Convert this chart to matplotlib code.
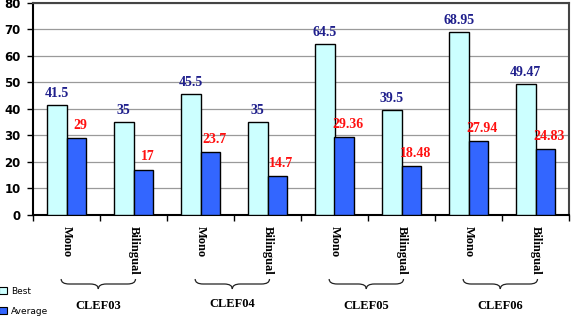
import numpy as np
import matplotlib
matplotlib.use('Agg')
import matplotlib.pyplot as plt
from matplotlib.path import Path
from matplotlib.patches import PathPatch, Patch
import matplotlib.transforms as mtransforms

# values
groups = ['CLEF03', 'CLEF04', 'CLEF05', 'CLEF06']
tasks = ['Mono', 'Bilingual', 'Mono', 'Bilingual', 'Mono', 'Bilingual', 'Mono', 'Bilingual']
best = [41.5, 35, 45.5, 35, 64.5, 39.5, 68.95, 49.47]
average = [29, 17, 23.7, 14.7, 29.36, 18.48, 27.94, 24.83]

serif = 'Liberation Serif'
x = np.arange(len(tasks))
w = 0.29

fig = plt.figure(figsize=(5.76, 3.22), dpi=100)
ax = fig.add_axes([33/576, 1-214.7/322, 536/576, 211.7/322])

ax.bar(x - w/2, best, w, color='#CCFFFF', edgecolor='black', linewidth=1, zorder=3)
ax.bar(x + w/2, average, w, color='#3366FF', edgecolor='black', linewidth=1, zorder=3)

for i in range(len(x)):
    ax.annotate(f'{best[i]:g}', (x[i] - w/2, best[i]), xytext=(0, 3.5), textcoords='offset points',
                ha='center', va='bottom', color='#1F1F8C', fontsize=10, fontweight='bold', family=serif)
    ax.annotate(f'{average[i]:g}', (x[i] + w/2, average[i]), xytext=(3, 4.5), textcoords='offset points',
                ha='center', va='bottom', color='#FF1010', fontsize=10, fontweight='bold', family=serif,
                annotation_clip=False)

ax.set_xlim(-0.5, len(x) - 0.5)
ax.set_ylim(0, 80)
ax.set_yticks(range(0, 81, 10))
ax.set_yticklabels([str(v) for v in range(0, 81, 10)], fontsize=8.5, fontweight='bold')
ax.yaxis.grid(True, color='#9a9a9a', linewidth=0.9, zorder=0)
ax.set_axisbelow(True)

ax.set_xticks(x)
ax.set_xticklabels(tasks, rotation=-90, fontsize=9, fontweight='bold', family=serif, va='top', ha='center')
ax.tick_params(axis='x', length=0, pad=8)
ax.set_xticks(np.arange(-0.5, len(x), 1), minor=True)
ax.tick_params(axis='x', which='minor', length=4, width=1, direction='out')
ax.tick_params(axis='y', length=4, width=1, direction='out', pad=5)

for s in ['left', 'bottom']:
    ax.spines[s].set_color('black')
    ax.spines[s].set_linewidth(1.5)
for s in ['top', 'right']:
    ax.spines[s].set_color('#444444')
    ax.spines[s].set_linewidth(1.5)

# braces under each pair
trans = mtransforms.blended_transform_factory(ax.transData, fig.transFigure)
yt = 1 - 279/322
d = 10/322
r = 0.12
for g, name in enumerate(groups):
    x0 = 2*g - 0.08
    x1 = 2*g + 1 + 0.03
    xm = (x0 + x1) / 2
    verts = [(x0, yt), (x0, yt - d/2), (x0 + r, yt - d/2),
             (xm - r, yt - d/2),
             (xm, yt - d/2), (xm, yt - d),
             (xm, yt - d/2), (xm + r, yt - d/2),
             (x1 - r, yt - d/2),
             (x1, yt - d/2), (x1, yt)]
    codes = [Path.MOVETO, Path.CURVE3, Path.CURVE3, Path.LINETO,
             Path.CURVE3, Path.CURVE3, Path.CURVE3, Path.CURVE3,
             Path.LINETO, Path.CURVE3, Path.CURVE3]
    patch = PathPatch(Path(verts, codes), transform=trans, fill=False, edgecolor='#222222',
                      linewidth=0.9, clip_on=False)
    fig.add_artist(patch)
    ty = 1 - (304 if g == 1 else 306)/322
    fig.text(0, ty, name, transform=trans, ha='center', va='center',
             fontsize=9, fontweight='bold', family=serif)
    fig.texts[-1].set_x(xm)

handles = [Patch(facecolor='#CCFFFF', edgecolor='black', linewidth=0.8),
           Patch(facecolor='#3366FF', edgecolor='black', linewidth=0.8)]
fig.legend(handles, ['Best', 'Average'], loc='lower left', bbox_to_anchor=(-0.012, 0.0),
           frameon=False, fontsize=6.5, handlelength=0.8, handleheight=0.8,
           handletextpad=0.5, labelspacing=1.2, borderpad=0.2)

fig.savefig('out.png', dpi=100)
